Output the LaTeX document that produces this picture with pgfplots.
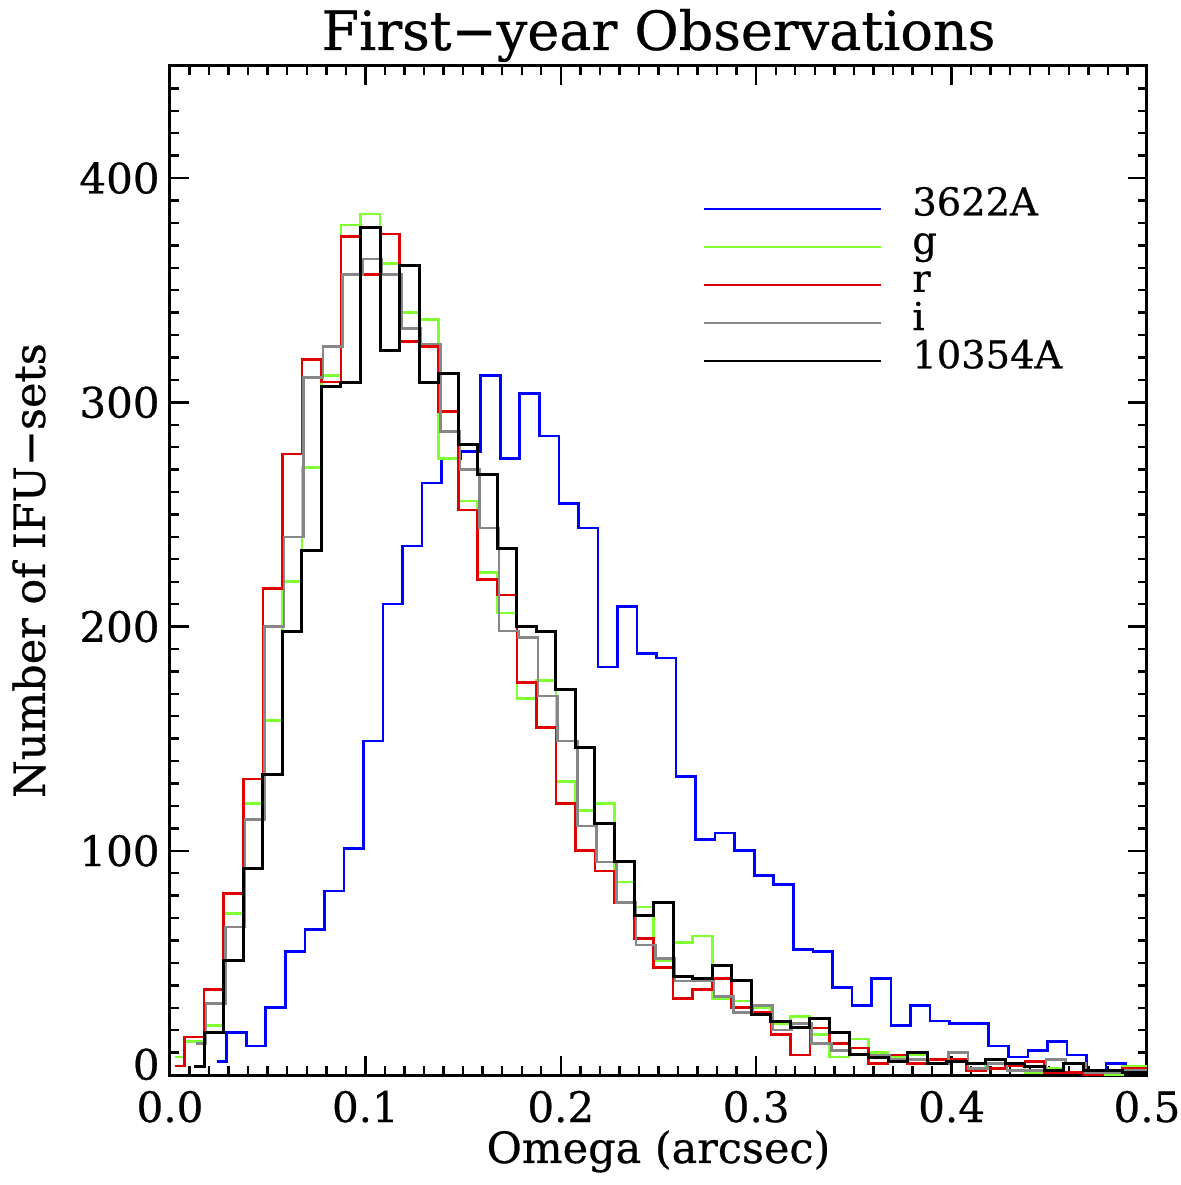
\documentclass[border=0pt]{standalone}
\usepackage{fontspec}
\setmainfont[FakeBold=0.6]{DejaVu Serif}
\usepackage{pgfplots}
\pgfplotsset{compat=1.18}
\definecolor{cblue}{RGB}{0,0,255}
\definecolor{cgreen}{RGB}{128,255,50}
\definecolor{cred}{RGB}{225,0,0}
\definecolor{cgray}{RGB}{135,135,135}
\begin{document}
\begin{tikzpicture}
\useasboundingbox (0,0) rectangle (590pt,592.5pt);
\begin{axis}[
  at={(85pt,55pt)}, anchor=south west,
  scale only axis, width=488.5pt, height=504.5pt,
  xmin=0, xmax=0.5, ymin=0, ymax=450,
  xtick={0,0.1,0.2,0.3,0.4,0.5},
  xticklabels={0.0,0.1,0.2,0.3,0.4,0.5},
  ytick={0,100,200,300,400},
  yticklabels={\raisebox{-2.3pt}[0pt][0pt]{0},100,200,300,400},
  minor xtick={0.01,0.02,0.03,0.04,0.05,0.06,0.07,0.08,0.09,0.11,0.12,0.13,0.14,0.15,0.16,0.17,0.18,0.19,0.21,0.22,0.23,0.24,0.25,0.26,0.27,0.28,0.29,0.31,0.32,0.33,0.34,0.35,0.36,0.37,0.38,0.39,0.41,0.42,0.43,0.44,0.45,0.46,0.47,0.48,0.49},
  minor ytick={10,20,30,40,50,60,70,80,90,110,120,130,140,150,160,170,180,190,210,220,230,240,250,260,270,280,290,310,320,330,340,350,360,370,380,390,410,420,430,440},
  major tick length=9.5pt, minor tick length=4.5pt,
  every tick/.style={line width=1.2pt, black},
  axis line style={line width=1.5pt},
  tick label style={font=\fontsize{21}{25}\selectfont},
  xticklabel style={anchor=base, yshift=-23.5pt},
  yticklabel style={anchor=east, inner sep=0pt, xshift=-5pt},
  title={First−year Observations},
  title style={at={(axis description cs:0.5,1.004)}, anchor=base, font=\fontsize{27}{32}\selectfont},
  xlabel={Omega (arcsec)},
  xlabel style={at={(axis description cs:0.5,-0.0872)}, anchor=base, font=\fontsize{21.5}{26}\selectfont},
  ylabel={Number of IFU−sets},
  ylabel style={at={(axis description cs:-0.128,0.5)}, anchor=base, font=\fontsize{21.5}{26}\selectfont},
  legend style={draw=none, fill=none, at={(axis description cs:0.5394,0.882)}, anchor=north west,
    font=\fontsize{19.2}{23}\selectfont, row sep=0pt, column sep=15pt,
    nodes={inner sep=0pt, text height=13pt, text depth=6.1pt}},
  legend cell align=left,
  legend image code/.code={\draw[#1, line width=1pt] (0pt,0pt) -- (88.5pt,0pt);},
  const plot,
]
\addplot[cblue, line width=1.3pt] coordinates {(0.024,6)(0.029,19)(0.039,13)(0.049,30)(0.059,55)(0.069,65)(0.079,82)(0.089,101)(0.099,149)(0.109,210)(0.119,236)(0.129,264)(0.139,275)(0.149,278)(0.159,312)(0.169,275)(0.179,304)(0.189,285)(0.199,255)(0.209,244)(0.219,182)(0.229,209)(0.239,188)(0.249,186)(0.259,133)(0.269,105)(0.279,108)(0.289,100)(0.299,89)(0.309,85)(0.319,56)(0.329,55)(0.339,39)(0.349,31)(0.359,43)(0.369,22)(0.379,31)(0.389,24)(0.399,23)(0.409,23)(0.419,13)(0.429,8)(0.439,11)(0.449,15)(0.459,9)(0.469,2)(0.479,5)(0.489,4)(0.5,4)};
\addlegendentry{3622A}
\addplot[cgreen, line width=1.3pt] coordinates {(0.0025,8)(0.0075,15)(0.0175,22)(0.0275,72)(0.0375,121)(0.0475,158)(0.0575,220)(0.0675,271)(0.0775,312)(0.0875,379)(0.0975,384)(0.1075,362)(0.1175,340)(0.1275,337)(0.1375,275)(0.1475,256)(0.1575,224)(0.1675,206)(0.1775,168)(0.1875,176)(0.1975,131)(0.2075,118)(0.2175,121)(0.2275,86)(0.2375,75)(0.2475,51)(0.2575,59)(0.2675,62)(0.2775,34)(0.2875,33)(0.2975,30)(0.3075,23)(0.3175,26)(0.3275,18)(0.3375,8)(0.3475,16)(0.3575,10)(0.3675,8)(0.3775,9)(0.3875,7)(0.3975,6)(0.4075,3)(0.4175,5)(0.4275,5)(0.4375,1)(0.4475,3)(0.4575,1)(0.4675,0)(0.4775,0)(0.4875,4)(0.5,4)};
\addlegendentry{g}
\addplot[cred, line width=1.3pt] coordinates {(0.0025,4)(0.0075,17)(0.0175,38)(0.0275,81)(0.0375,132)(0.0475,217)(0.0575,277)(0.0675,319)(0.0775,309)(0.0875,374)(0.0975,357)(0.1075,375)(0.1175,327)(0.1275,325)(0.1375,296)(0.1475,252)(0.1575,221)(0.1675,214)(0.1775,175)(0.1875,155)(0.1975,121)(0.2075,100)(0.2175,91)(0.2275,77)(0.2375,61)(0.2475,48)(0.2575,34)(0.2675,38)(0.2775,43)(0.2875,30)(0.2975,28)(0.3075,18)(0.3175,9)(0.3275,21)(0.3375,14)(0.3475,12)(0.3575,5)(0.3675,9)(0.3775,5)(0.3875,7)(0.3975,7)(0.4075,2)(0.4175,3)(0.4275,4)(0.4375,6)(0.4475,1)(0.4575,1)(0.4675,0)(0.4775,1)(0.4875,3)(0.5,3)};
\addlegendentry{r}
\addplot[cgray, line width=1.3pt] coordinates {(0.0134,14)(0.0184,32)(0.0284,66)(0.0384,114)(0.0484,200)(0.0584,240)(0.0684,311)(0.0784,325)(0.0884,357)(0.0984,364)(0.1084,357)(0.1184,333)(0.1284,326)(0.1384,287)(0.1484,270)(0.1584,244)(0.1684,198)(0.1784,195)(0.1884,169)(0.1984,149)(0.2084,111)(0.2184,95)(0.2284,77)(0.2384,58)(0.2484,52)(0.2584,42)(0.2684,42)(0.2784,35)(0.2884,28)(0.2984,31)(0.3084,20)(0.3184,23)(0.3284,14)(0.3384,11)(0.3484,9)(0.3584,9)(0.3684,7)(0.3784,7)(0.3884,5)(0.3984,10)(0.4084,3)(0.4184,5)(0.4284,2)(0.4384,2)(0.4484,7)(0.4584,5)(0.4684,1)(0.4784,1)(0.4884,2)(0.5,2)};
\addlegendentry{i}
\addplot[black, line width=1.5pt] coordinates {(0.0125,4)(0.0175,19)(0.0275,51)(0.0375,92)(0.0475,134)(0.0575,198)(0.0675,234)(0.0775,307)(0.0875,309)(0.0975,378)(0.1075,323)(0.1175,361)(0.1275,309)(0.1375,313)(0.1475,281)(0.1575,268)(0.1675,235)(0.1775,200)(0.1875,198)(0.1975,172)(0.2075,146)(0.2175,112)(0.2275,95)(0.2375,71)(0.2475,77)(0.2575,44)(0.2675,43)(0.2775,49)(0.2875,42)(0.2975,27)(0.3075,24)(0.3175,21)(0.3275,25)(0.3375,19)(0.3475,9)(0.3575,8)(0.3675,6)(0.3775,10)(0.3875,5)(0.3975,6)(0.4075,5)(0.4175,7)(0.4275,5)(0.4375,4)(0.4475,2)(0.4575,5)(0.4675,2)(0.4775,2)(0.4875,1)(0.5,1)};
\addlegendentry{10354A}
\end{axis}
\end{tikzpicture}
\end{document}
